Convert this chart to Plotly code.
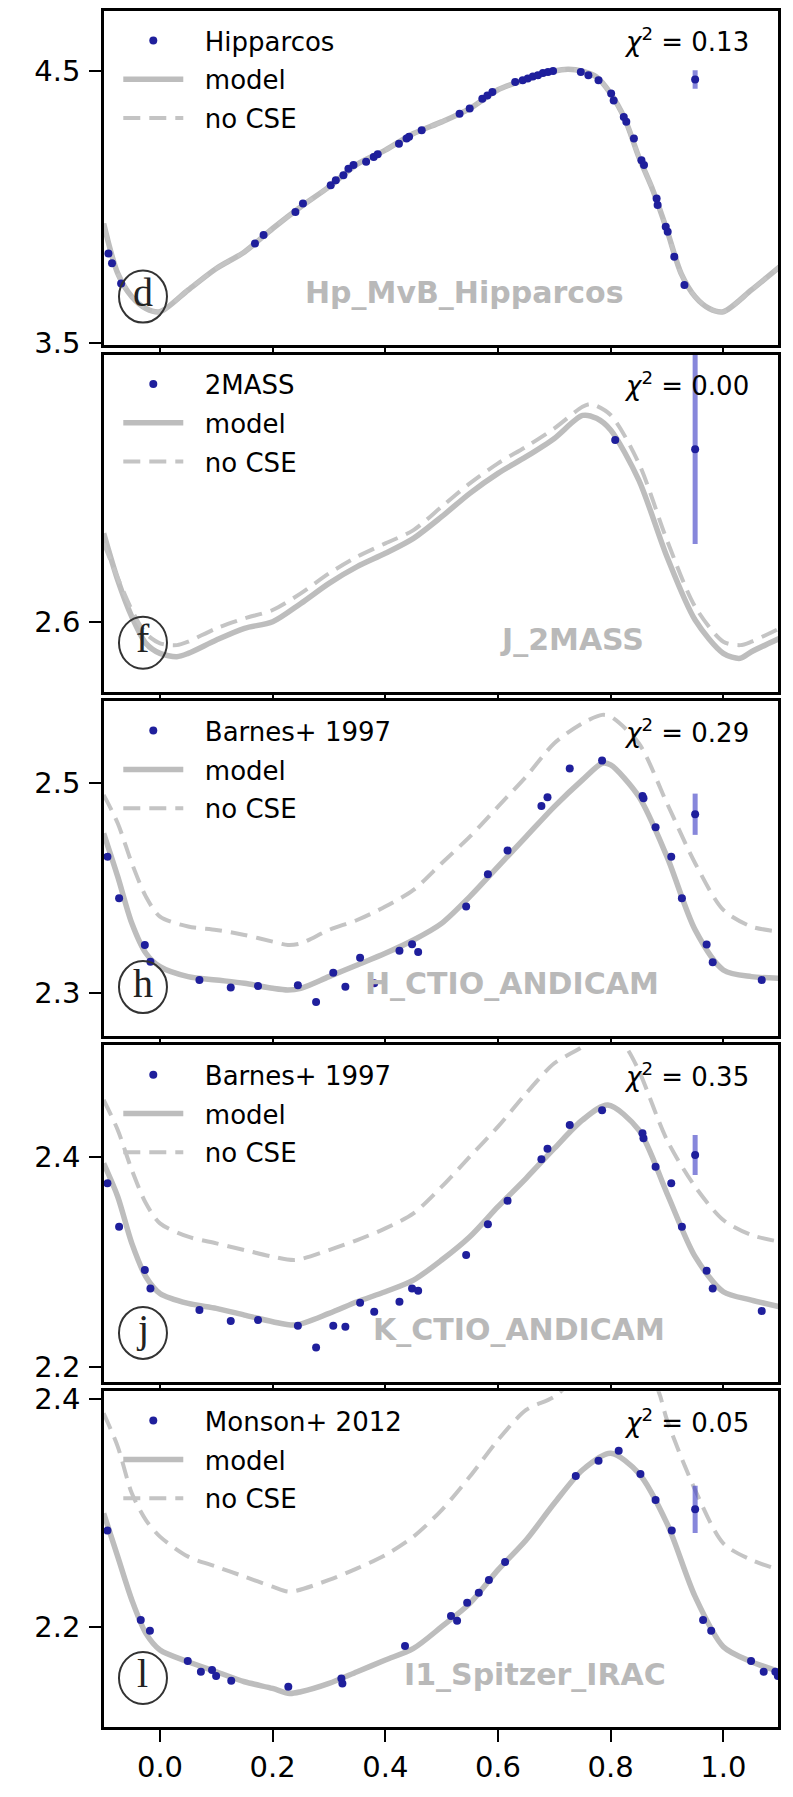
import plotly.graph_objects as go

# ---- panel d : Hp_MvB_Hipparcos ----
hp_phase = [-0.1, -0.075, -0.05, -0.025, 0.0, 0.05, 0.1, 0.15, 0.2, 0.25, 0.3, 0.35, 0.4, 0.45, 0.5,
            0.55, 0.6, 0.65, 0.7, 0.725, 0.75, 0.775, 0.8, 0.825, 0.85, 0.875, 0.9, 0.925, 0.95,
            0.975, 1.0, 1.05, 1.1]
hp_model = [3.939, 3.756, 3.670, 3.627, 3.615, 3.695, 3.774, 3.835, 3.921, 4.001, 4.074, 4.157,
            4.209, 4.270, 4.313, 4.362, 4.431, 4.469, 4.500, 4.506, 4.499, 4.478, 4.417, 4.325,
            4.184, 4.062, 3.915, 3.756, 3.670, 3.627, 3.615, 3.695, 3.780]
hp_nocse = [3.939, 3.756, 3.670, 3.627, 3.615, 3.695, 3.774, 3.835, 3.921, 4.001, 4.074, 4.157,
            4.209, 4.270, 4.313, 4.362, 4.431, 4.469, 4.500, 4.506, 4.499, 4.478, 4.417, 4.325,
            4.184, 4.062, 3.915, 3.756, 3.670, 3.627, 3.615, 3.695, 3.780]
hp_obs_phase = [-0.0915, -0.0852, -0.069, 0.1686, 0.1839, 0.2404, 0.2538, 0.3031, 0.3121, 0.3256,
                0.3345, 0.3435, 0.3659, 0.3794, 0.3865, 0.4242, 0.4377, 0.4422, 0.4646, 0.5318,
                0.5498, 0.5722, 0.5812, 0.5901, 0.6305, 0.6439, 0.6529, 0.6619, 0.6709, 0.6798,
                0.6888, 0.6978, 0.7471, 0.7605, 0.7785, 0.8009, 0.8054, 0.8233, 0.8278, 0.8413,
                0.8547, 0.8592, 0.8816, 0.8834, 0.8978, 0.9013, 0.913, 0.931]
hp_obs = [3.829, 3.793, 3.719, 3.866, 3.897, 3.982, 4.013, 4.080, 4.098, 4.117, 4.141, 4.154,
          4.166, 4.184, 4.194, 4.233, 4.252, 4.258, 4.282, 4.343, 4.362, 4.398, 4.410, 4.423,
          4.460, 4.466, 4.472, 4.480, 4.484, 4.493, 4.496, 4.500, 4.496, 4.484, 4.466, 4.417,
          4.392, 4.331, 4.313, 4.252, 4.172, 4.154, 4.031, 4.007, 3.927, 3.909, 3.817, 3.713]
hp_err = [4.469, 0.034]

# ---- panel f : J_2MASS ----
j_phase = [-0.1, -0.075, -0.05, -0.025, 0.0, 0.03, 0.05, 0.1, 0.15, 0.2, 0.25, 0.3, 0.35, 0.4,
           0.45, 0.5, 0.55, 0.6, 0.65, 0.7, 0.75, 0.775, 0.8, 0.85, 0.9, 0.95, 1.0, 1.03, 1.05, 1.1]
j_model = [2.6589, 2.6278, 2.6033, 2.5856, 2.5789, 2.5767, 2.5789, 2.5878, 2.5956, 2.6000, 2.6122,
           2.6256, 2.6367, 2.6456, 2.6556, 2.6700, 2.6856, 2.6989, 2.7100, 2.7222, 2.7375, 2.7356,
           2.7278, 2.6944, 2.6433, 2.6011, 2.5789, 2.5756, 2.5800, 2.5889]
j_nocse_phase = [-0.1, -0.05, -0.025, 0.0, 0.03, 0.05, 0.1, 0.15, 0.2, 0.25, 0.3, 0.35, 0.4, 0.45,
                 0.5, 0.55, 0.6, 0.65, 0.7, 0.75, 0.765, 0.8, 0.85, 0.9, 0.95, 1.0, 1.03, 1.05, 1.1]
j_nocse = [2.6522, 2.6078, 2.5922, 2.5856, 2.5844, 2.5867, 2.5956, 2.6022, 2.6078, 2.6189, 2.6322,
           2.6433, 2.6522, 2.6611, 2.6767, 2.6922, 2.7056, 2.7167, 2.7289, 2.7433, 2.7451, 2.7378,
           2.7056, 2.6544, 2.6100, 2.5867, 2.5844, 2.5867, 2.5956]
j_obs_phase = [0.8081]
j_obs = [2.7211]
j_err = [2.7149, 0.0631]

# ---- panel h : H_CTIO_ANDICAM ----
h_phase = [-0.1, -0.075, -0.05, -0.025, 0.0, 0.05, 0.1, 0.15, 0.2, 0.227, 0.25, 0.3, 0.35, 0.4,
           0.45, 0.5, 0.55, 0.6, 0.65, 0.7, 0.75, 0.785, 0.8, 0.85, 0.9, 0.95, 1.0, 1.05, 1.1]
h_model = [2.4522, 2.4108, 2.3662, 2.3376, 2.3248, 2.3153, 2.3121, 2.3089, 2.3041, 2.3025, 2.3041,
           2.3153, 2.3264, 2.3376, 2.3503, 2.3662, 2.3917, 2.4204, 2.4490, 2.4777, 2.5032, 2.5191,
           2.5175, 2.4873, 2.4299, 2.3599, 2.3217, 2.3153, 2.3137]
h_nocse = [2.4889, 2.4618, 2.4236, 2.3917, 2.3726, 2.3631, 2.3599, 2.3551, 2.3487, 2.3455, 2.3471,
           2.3599, 2.3694, 2.3822, 2.3981, 2.4236, 2.4490, 2.4777, 2.5064, 2.5382, 2.5573, 2.5653,
           2.5637, 2.5382, 2.4809, 2.4236, 2.3790, 2.3631, 2.3583]
h_obs_phase = [-0.0933, -0.0726, -0.0269, -0.0170, 0.0700, 0.1256, 0.1740, 0.2448, 0.2771, 0.3076,
               0.3291, 0.3552, 0.3803, 0.4251, 0.4475, 0.4583, 0.5435, 0.5821, 0.6170, 0.6771,
               0.6879, 0.7274, 0.7848, 0.8565, 0.8583, 0.8798, 0.9076, 0.9265, 0.9704, 0.9812, 1.0682]
h_obs = [2.4299, 2.3901, 2.3455, 2.3296, 2.3121, 2.3048, 2.3064, 2.3070, 2.2911, 2.3191, 2.3057,
         2.3334, 2.3089, 2.3401, 2.3462, 2.3389, 2.3822, 2.4131, 2.4357, 2.4783, 2.4866, 2.5140,
         2.5217, 2.4879, 2.4857, 2.4580, 2.4299, 2.3901, 2.3459, 2.3290, 2.3121]
h_err = [2.4704, 0.0197]

# ---- panel j : K_CTIO_ANDICAM ----
k_phase = [-0.1, -0.075, -0.05, -0.025, 0.0, 0.05, 0.1, 0.15, 0.2, 0.24, 0.3, 0.35, 0.4, 0.45,
           0.5, 0.55, 0.6, 0.65, 0.7, 0.75, 0.795, 0.85, 0.9, 0.95, 1.0, 1.05, 1.1]
k_model = [2.3937, 2.3619, 2.3175, 2.2857, 2.2698, 2.2603, 2.2556, 2.2492, 2.2429, 2.2397, 2.2508,
           2.2619, 2.2714, 2.2825, 2.3016, 2.3238, 2.3524, 2.3794, 2.4079, 2.4349, 2.4492, 2.4254,
           2.3651, 2.3048, 2.2714, 2.2635, 2.2571]
k_nocse_phase = [-0.1, -0.075, -0.05, -0.025, 0.0, 0.05, 0.1, 0.15, 0.2, 0.24, 0.3, 0.35, 0.4,
                 0.45, 0.5, 0.55, 0.6, 0.65, 0.7, 0.75, 0.775, 0.8, 0.825, 0.85, 0.9, 0.95, 1.0,
                 1.05, 1.1]
k_nocse = [2.4540, 2.4254, 2.3873, 2.3556, 2.3365, 2.3238, 2.3175, 2.3111, 2.3048, 2.3016, 2.3111,
           2.3206, 2.3317, 2.3460, 2.3714, 2.4000, 2.4286, 2.4603, 2.4889, 2.5048, 2.5170, 2.5170,
           2.5060, 2.4820, 2.4159, 2.3714, 2.3397, 2.3254, 2.3190]
k_obs_phase = h_obs_phase
k_obs = [2.3746, 2.3333, 2.2921, 2.2746, 2.2540, 2.2435, 2.2444, 2.2390, 2.2184, 2.2390, 2.2381,
         2.2610, 2.2524, 2.2619, 2.2746, 2.2724, 2.3063, 2.3356, 2.3581, 2.3975, 2.4076, 2.4302,
         2.4441, 2.4222, 2.4175, 2.3905, 2.3746, 2.3333, 2.2914, 2.2746, 2.2530]
k_err = [2.4016, 0.019]

# ---- panel l : I1_Spitzer_IRAC ----
i1_phase = [-0.1, -0.075, -0.05, -0.025, 0.0, 0.05, 0.1, 0.15, 0.2, 0.23, 0.25, 0.3, 0.35, 0.4,
            0.45, 0.5, 0.55, 0.6, 0.65, 0.7, 0.75, 0.8, 0.85, 0.9, 0.95, 1.0, 1.05, 1.1]
i1_model = [2.2997, 2.2616, 2.2235, 2.1941, 2.1795, 2.1692, 2.1604, 2.1516, 2.1457, 2.1413, 2.1428,
            2.1501, 2.1604, 2.1707, 2.1809, 2.2000, 2.2205, 2.2499, 2.2762, 2.3085, 2.3378, 2.3525,
            2.3349, 2.2909, 2.2264, 2.1824, 2.1692, 2.1604]
i1_nocse_phase = [-0.1, -0.075, -0.05, -0.025, 0.0, 0.05, 0.1, 0.15, 0.2, 0.23, 0.3, 0.35, 0.4,
                  0.45, 0.5, 0.55, 0.6, 0.65, 0.7, 0.75, 0.8, 0.85, 0.885, 0.9, 0.95, 1.0, 1.05, 1.1]
i1_nocse = [2.3877, 2.3584, 2.3173, 2.2938, 2.2792, 2.2616, 2.2528, 2.2440, 2.2352, 2.2308, 2.2411,
            2.2513, 2.2630, 2.2792, 2.3026, 2.3320, 2.3642, 2.3906, 2.4023, 2.4250, 2.4400, 2.4400,
            2.4070, 2.3818, 2.3202, 2.2733, 2.2587, 2.2499]
i1_obs_phase = [-0.0933, -0.0341, -0.0179, 0.0493, 0.0726, 0.0924, 0.0996, 0.1265, 0.2278, 0.3220,
                0.3238, 0.4350, 0.5166, 0.5274, 0.5453, 0.5659, 0.5839, 0.6126, 0.7381, 0.7785,
                0.8143, 0.8529, 0.8798, 0.9085, 0.9641, 0.9785, 1.0493, 1.0717, 1.0924, 1.0969]
i1_obs = [2.2845, 2.2059, 2.1965, 2.1698, 2.1604, 2.1619, 2.1566, 2.1525, 2.1472, 2.1545, 2.1501,
          2.1830, 2.2094, 2.2053, 2.2211, 2.2299, 2.2411, 2.2569, 2.3326, 2.3460, 2.3548, 2.3343,
          2.3114, 2.2845, 2.2059, 2.1965, 2.1698, 2.1604, 2.1604, 2.1566]
i1_err = [2.3032, 0.0208]

panels = [
    dict(letter='d', band='Hp_MvB_Hipparcos', source='Hipparcos', chi2='0.13', band_x=0.541,
         model_x=hp_phase, model=hp_model, nocse_x=hp_phase, nocse=hp_nocse,
         obs_x=hp_obs_phase, obs=hp_obs, err=hp_err, yrange=[3.491, 4.7206], ticks=[3.5, 4.5]),
    dict(letter='f', band='J_2MASS', source='2MASS', chi2='0.00', band_x=0.731,
         model_x=j_phase, model=j_model, nocse_x=j_nocse_phase, nocse=j_nocse,
         obs_x=j_obs_phase, obs=j_obs, err=j_err, yrange=[2.5531, 2.7781], ticks=[2.6]),
    dict(letter='h', band='H_CTIO_ANDICAM', source='Barnes+ 1997', chi2='0.29', band_x=0.625,
         model_x=h_phase, model=h_model, nocse_x=h_phase, nocse=h_nocse,
         obs_x=h_obs_phase, obs=h_obs, err=h_err, yrange=[2.2586, 2.5784], ticks=[2.3, 2.5]),
    dict(letter='j', band='K_CTIO_ANDICAM', source='Barnes+ 1997', chi2='0.35', band_x=0.637,
         model_x=k_phase, model=k_model, nocse_x=k_nocse_phase, nocse=k_nocse,
         obs_x=k_obs_phase, obs=k_obs, err=k_err, yrange=[2.1854, 2.5061], ticks=[2.2, 2.4]),
    dict(letter='l', band='I1_Spitzer_IRAC', source='Monson+ 2012', chi2='0.05', band_x=0.666,
         model_x=i1_phase, model=i1_model, nocse_x=i1_nocse_phase, nocse=i1_nocse,
         obs_x=i1_obs_phase, obs=i1_obs, err=i1_err, yrange=[2.1118, 2.4071], ticks=[2.2, 2.4]),
]

x_ticks = [0.0, 0.2, 0.4, 0.6, 0.8, 1.0]

# panel boundaries (paper fractions, bottom, top); axis lines are drawn just outside these
domains = [[0.8051, 1.0], [0.6031, 0.7998], [0.4027, 0.5978], [0.2010, 0.3973], [0.0, 0.1957]]

dot_color = '#1f1f9c'
err_color = 'rgba(70,70,200,0.65)'
model_color = '#bdbdbd'
nocse_color = '#c4c4c4'
font = 'DejaVu Sans'
pad = '\u00a0\u00a0'

fig = go.Figure()
layout = {}

for i, p in enumerate(panels):
    n = i + 1
    sfx = '' if n == 1 else str(n)
    xa, ya = 'x' + sfx, 'y' + sfx
    leg = 'legend' + sfx

    fig.add_trace(go.Scatter(x=p['model_x'], y=p['model'], mode='lines', name=pad + 'model',
                             xaxis=xa, yaxis=ya,
                             line=dict(color=model_color, width=5.5, shape='spline', smoothing=0.8),
                             legend=leg, legendgroup='m%d' % n, legendrank=2))
    fig.add_trace(go.Scatter(x=p['nocse_x'], y=p['nocse'], mode='lines', name=pad + 'no CSE',
                             xaxis=xa, yaxis=ya,
                             line=dict(color=nocse_color, width=4, dash='17px,9px', shape='spline',
                                       smoothing=0.8),
                             legend=leg, legendgroup='n%d' % n, legendrank=3))
    fig.add_trace(go.Scatter(x=[0.95], y=[p['err'][0]], mode='markers', showlegend=False,
                             xaxis=xa, yaxis=ya, marker=dict(color=dot_color, size=8),
                             error_y=dict(type='data', array=[p['err'][1]], color=err_color,
                                          thickness=5, width=0)))
    fig.add_trace(go.Scatter(x=p['obs_x'], y=p['obs'], mode='markers', name=pad + p['source'],
                             xaxis=xa, yaxis=ya, marker=dict(color=dot_color, size=8),
                             legend=leg, legendgroup='o%d' % n, legendrank=1))

    layout['xaxis' + sfx] = dict(
        domain=[0, 1], anchor=ya, range=[-0.0994, 1.0971], tickvals=x_ticks,
        ticktext=['%.1f' % t for t in x_ticks], showticklabels=(n == 5),
        ticks='outside', ticklen=12 if n == 5 else 5, tickwidth=2, tickcolor='black',
        showline=True, mirror=True, linecolor='black', linewidth=2.5, showgrid=False,
        zeroline=False, automargin=False, ticklabelstandoff=0,
        tickfont=dict(family=font, size=29, color='black'))
    layout['yaxis' + sfx] = dict(
        domain=domains[i], anchor=xa, range=p['yrange'], tickvals=p['ticks'],
        ticktext=['%.1f' % t for t in p['ticks']],
        ticks='outside', ticklen=12, tickwidth=2, tickcolor='black',
        showline=True, mirror=True, linecolor='black', linewidth=2.5, showgrid=False,
        zeroline=False, automargin=False, ticklabelstandoff=3,
        tickfont=dict(family=font, size=29, color='black'))
    layout[leg] = dict(x=0.0212, y=domains[i][1] - 6 / 1716, xanchor='left', yanchor='top',
                       bgcolor='rgba(0,0,0,0)', font=dict(family=font, size=26, color='black'),
                       traceorder='grouped', tracegroupgap=2, itemwidth=60)

    fig.add_annotation(x=p['band_x'], y=0.157, xref=xa, yref=ya + ' domain', xanchor='center',
                       yanchor='middle', text='<b>%s</b>' % p['band'], showarrow=False,
                       font=dict(family=font, size=30, color='#b9b9b9'))
    fig.add_annotation(x=1.049, y=0.912, xref=xa, yref=ya + ' domain', xanchor='right',
                       yanchor='middle', text='<i>χ</i><sup>2</sup> = %s' % p['chi2'],
                       showarrow=False, font=dict(family=font, size=26, color='black'))
    fig.add_annotation(x=-0.0302, y=0.158, xref=xa, yref=ya + ' domain', xanchor='center',
                       yanchor='middle', text=p['letter'], showarrow=False,
                       font=dict(family='Liberation Serif', size=40, color='#222'))
    fig.add_shape(type='circle', xref=xa, yref=ya + ' domain', xsizemode='pixel', ysizemode='pixel',
                  xanchor=-0.0302, yanchor=0.146, x0=-24, x1=24, y0=-26, y1=26,
                  line=dict(color='#333333', width=2))

fig.update_layout(layout)
# page body keeps an 8px margin, so the figure is sized to fit inside it
fig.update_layout(width=777, height=1781, margin=dict(l=96, r=7, t=3, b=62, autoexpand=False),
                  plot_bgcolor='white', paper_bgcolor='white', font=dict(family=font),
                  template='none')

fig.write_html("out.html")
